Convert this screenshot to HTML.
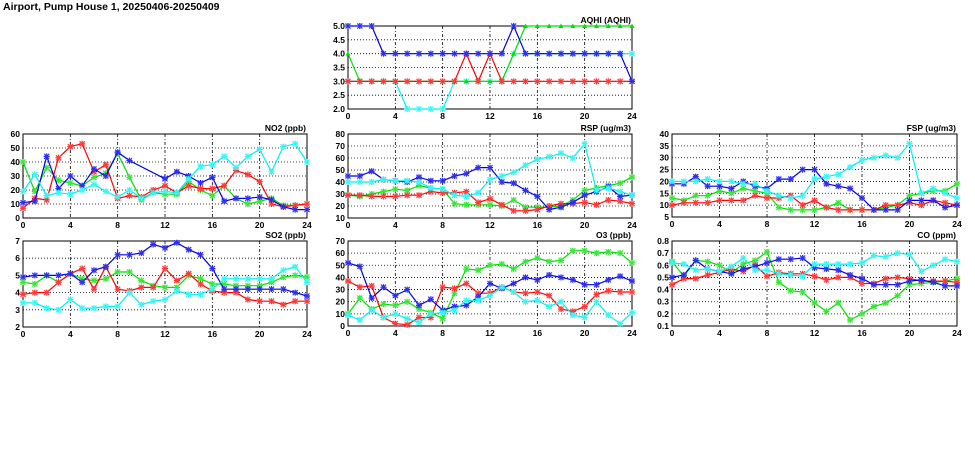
<!DOCTYPE html>
<html><head><meta charset="utf-8"><style>
body{margin:0;background:#fff;width:975px;height:447px;overflow:hidden}
svg text{font-family:"Liberation Sans",sans-serif;font-weight:bold}
</style></head><body>
<svg id="c" width="975" height="447" viewBox="0 0 975 447" xmlns="http://www.w3.org/2000/svg">
<text x="3" y="10" font-size="10.5">Airport, Pump House 1, 20250406-20250409</text>
</svg>
<script>
const hours = [0,1,2,3,4,5,6,7,8,9,10,11,12,13,14,15,16,17,18,19,20,21,22,23,24];
const seriesNames = ['green','red','blue','cyan'];
const aqhiGreen = [4,3,3,3,3,3,3,3,3,3,3,3,3,3,4,5,5,5,5,5,5,5,5,5,5];
const aqhiRed = [3,3,3,3,3,3,3,3,3,3,4,3,4,3,3,3,3,3,3,3,3,3,3,3,3];
const aqhiBlue = [5,5,5,4,4,4,4,4,4,4,4,4,4,4,5,4,4,4,4,4,4,4,4,4,3];
const aqhiCyan = [3,3,3,3,3,2,2,2,2,3,3,3,3,3,4,4,4,4,4,4,4,4,4,4,4];
const no2Green = [40,19,36,27,25,23,29,32,46,29,13,18,17,17,26,20,16,23,14,10,12,14,9,9,10];
const no2Red = [7,14,13,43,51,53,33,38,14,16,15,20,23,18,23,21,21,23,34,31,26,10,8,9,10];
const no2Blue = [11,12,44,21,30,23,35,30,47,41,null,null,28,33,30,25,29,12,14,14,15,13,8,6,6];
const no2Cyan = [19,31,16,18,17,20,24,19,15,20,14,18,19,18,28,37,38,44,36,44,49,33,51,53,40];
const rspGreen = [29,28,30,32,34,33,37,35,34,22,21,21,21,20,25,19,19,19,20,25,33,35,37,39,44];
const rspRed = [29,29,28,28,28,29,29,32,31,31,32,23,26,21,16,16,17,20,22,22,23,21,25,24,22];
const rspBlue = [45,45,49,42,41,40,44,41,41,45,47,52,52,40,39,33,28,17,19,23,29,32,36,28,29];
const rspCyan = [40,40,40,42,41,41,40,35,34,29,28,31,42,45,48,54,59,61,64,60,72,33,35,32,29];
const fspGreen = [13,12,14,14,16,15,17,16,15,9,8,8,8,9,11,8,8,8,9,10,14,15,16,16,19];
const fspRed = [10,11,11,11,12,12,12,14,13,13,14,10,12,9,8,8,8,8,10,10,11,10,12,11,10];
const fspBlue = [19,19,22,18,18,17,20,18,17,21,21,25,25,19,18,17,13,8,8,8,12,12,12,9,10];
const fspCyan = [20,20,20,21,20,20,19,19,16,14,13,14,21,22,23,26,29,30,31,30,36,15,17,15,13];
const so2Green = [4.6,4.5,5.0,4.6,5.1,4.8,4.7,4.8,5.2,5.2,4.7,4.4,4.3,4.3,5.0,4.8,4.5,4.5,4.4,4.4,4.4,4.6,4.9,5.0,4.9];
const so2Red = [3.9,4.0,4.0,4.6,5.1,5.4,4.2,5.5,4.2,4.1,4.3,4.3,5.4,4.7,5.1,4.5,4.1,4.0,4.0,3.6,3.5,3.5,3.3,3.5,3.5];
const so2Blue = [4.9,5.0,5.0,5.0,5.1,4.6,5.3,5.5,6.2,6.2,6.3,6.8,6.6,6.9,6.5,6.2,5.4,4.2,4.2,4.2,4.2,4.2,4.2,4.0,3.8];
const so2Cyan = [3.4,3.4,3.1,3.0,3.6,3.1,3.1,3.2,3.2,4.0,3.3,3.5,3.6,4.1,3.9,3.9,4.2,4.8,4.8,4.8,4.8,4.8,5.3,5.5,4.6];
const o3Green = [10,23,14,18,17,20,14,11,6,27,47,46,50,51,47,53,56,53,54,62,62,60,61,60,52];
const o3Red = [37,32,33,7,2,1,7,7,32,31,35,27,27,32,28,27,28,25,14,12,16,26,29,28,28];
const o3Blue = [52,49,23,32,25,30,17,22,13,16,17,24,35,31,35,40,38,42,40,38,34,34,38,41,37];
const o3Cyan = [9,5,13,7,10,6,3,10,11,13,21,21,25,32,28,20,21,16,20,9,7,20,9,2,11];
const coGreen = [.63,.51,.64,.63,.60,.54,.61,.64,.71,.46,.39,.38,.29,.22,.29,.15,.20,.26,.29,.35,.44,.45,.46,.47,.49];
const coRed = [.44,.49,.49,.52,.54,.57,.55,.60,.51,.54,.53,.53,.51,.48,.50,.50,.45,.45,.49,.50,.49,.47,.47,.47,.46];
const coBlue = [.50,.52,.64,.57,.55,.53,.57,.59,.62,.65,.65,.66,.58,.57,.56,.52,.49,.44,.44,.44,.47,.48,.46,.43,.43];
const coCyan = [.62,.61,.56,.57,.55,.59,.66,.56,.56,.53,.52,.51,.61,.61,.61,.61,.62,.68,.67,.70,.69,.55,.60,.65,.63];
const xTicks = [0,4,8,12,16,20,24];

const colors = {green:'#00e000',red:'#ff0000',blue:'#0000e8',cyan:'#00f0f0'};
const light = {green:'#a0f0a0',red:'#ffa0a0',blue:'#8080ff',cyan:'#a0ffff'};
const panels = [
 {id:'aqhi',title:'AQHI (AQHI)',l:348,r:632,t:26,b:109,min:2,max:5,step:0.5,dec:1,data:[aqhiCyan,aqhiGreen,aqhiRed,aqhiBlue]},
 {id:'no2',title:'NO2 (ppb)',l:23,r:307,t:134,b:218,min:0,max:60,step:10,dec:0,data:[no2Green,no2Red,no2Blue,no2Cyan]},
 {id:'rsp',title:'RSP (ug/m3)',l:348,r:632,t:134,b:218,min:10,max:80,step:10,dec:0,data:[rspGreen,rspRed,rspBlue,rspCyan]},
 {id:'fsp',title:'FSP (ug/m3)',l:672,r:957,t:134,b:217,min:5,max:40,step:5,dec:0,data:[fspGreen,fspRed,fspBlue,fspCyan]},
 {id:'so2',title:'SO2 (ppb)',l:23,r:307,t:241,b:327,min:2,max:7,step:1,dec:0,data:[so2Green,so2Red,so2Blue,so2Cyan]},
 {id:'o3',title:'O3 (ppb)',l:348,r:632,t:241,b:326,min:0,max:70,step:10,dec:0,data:[o3Green,o3Red,o3Blue,o3Cyan]},
 {id:'co',title:'CO (ppm)',l:672,r:957,t:241,b:326,min:0.1,max:0.8,step:0.1,dec:1,data:[coGreen,coRed,coBlue,coCyan]}
];
const seriesOrder = {aqhi:['cyan','green','red','blue']};
const svg = document.getElementById('c');
const NS = 'http://www.w3.org/2000/svg';
function mk(tag, attrs, parent){const e=document.createElementNS(NS,tag);for(const k in attrs)e.setAttribute(k,attrs[k]);(parent||svg).appendChild(e);return e;}

panels.forEach(p=>{
  const g = mk('g',{});
  
  
  const xs = h => p.l + (p.r-p.l)*h/24;
  const ys = v => p.b - (p.b-p.t)*(v-p.min)/(p.max-p.min);
  mk('rect',{x:p.l,y:p.t,width:p.r-p.l,height:p.b-p.t,fill:'#fff',stroke:'none'},g);
  const n = Math.round((p.max-p.min)/p.step);
  for(let i=0;i<=n;i++){
    const v = p.min+i*p.step, y = ys(v);
    if(i>0&&i<n){const gl=mk('line',{x1:p.l,x2:p.r,y1:y,y2:y,stroke:'#000','stroke-width':0.8,'stroke-dasharray':'1,2'},g);
      
      }
    const t = mk('text',{x:p.l-3,y:y+3,'font-size':8.5,'text-anchor':'end'},g);
    t.textContent = v.toFixed(p.dec);
    
    
  }
  xTicks.forEach(h=>{
    const x = xs(h);
    if(h>0&&h<24){const gl=mk('line',{x1:x,x2:x,y1:p.t,y2:p.b,stroke:'#000','stroke-width':0.8,'stroke-dasharray':'3,2,1,2'},g);
      
      }
    const t = mk('text',{x:x,y:p.b+10,'font-size':8.5,'text-anchor':'middle'},g);
    t.textContent = h;
    
    
  });
  const fr = mk('rect',{x:p.l,y:p.t,width:p.r-p.l,height:p.b-p.t,fill:'none',stroke:'#000','stroke-width':1},g);
  
  
  const tt = mk('text',{x:p.r-1,y:p.t-3,'font-size':8.5,'text-anchor':'end','font-family':'Liberation Mono, monospace'},g);
  tt.textContent = p.title;
  
  
  const names = seriesOrder[p.id] || seriesNames;
  p.data.forEach((arr,si)=>{
    const col = names[si];
    let d='', pen=false;
    arr.forEach((v,i)=>{ if(v===null){return;} d += (pen?'L':'M')+xs(hours[i]).toFixed(1)+','+ys(v).toFixed(1); pen=true; });
    const ln = mk('path',{d:d,fill:'none',stroke:colors[col],'stroke-width':1.2},g);
    
    
    arr.forEach((v,i)=>{
      if(v===null) return;
      const x=xs(hours[i]), y=ys(v);
      let m;
      if(p.id==='aqhi'&&col==='green'){
        m = mk('path',{d:`M${x-2.5},${y+2}L${x+2.5},${y+2}L${x},${y-2.5}Z`,fill:colors[col]},g);
      } else {
        m = mk('path',{d:`M${x-2.5},${y-2.5}L${x+2.5},${y+2.5}M${x-2.5},${y+2.5}L${x+2.5},${y-2.5}M${x},${y-3}L${x},${y+3}M${x-3},${y}L${x+3},${y}`,stroke:colors[col],'stroke-width':1.1,fill:'none'},g);
        mk('rect',{x:x-2.5,y:y-2.5,width:5,height:5,fill:light[col],opacity:0.35},g);
      }
      
      
    });
  });
});
</script>
</body></html>
